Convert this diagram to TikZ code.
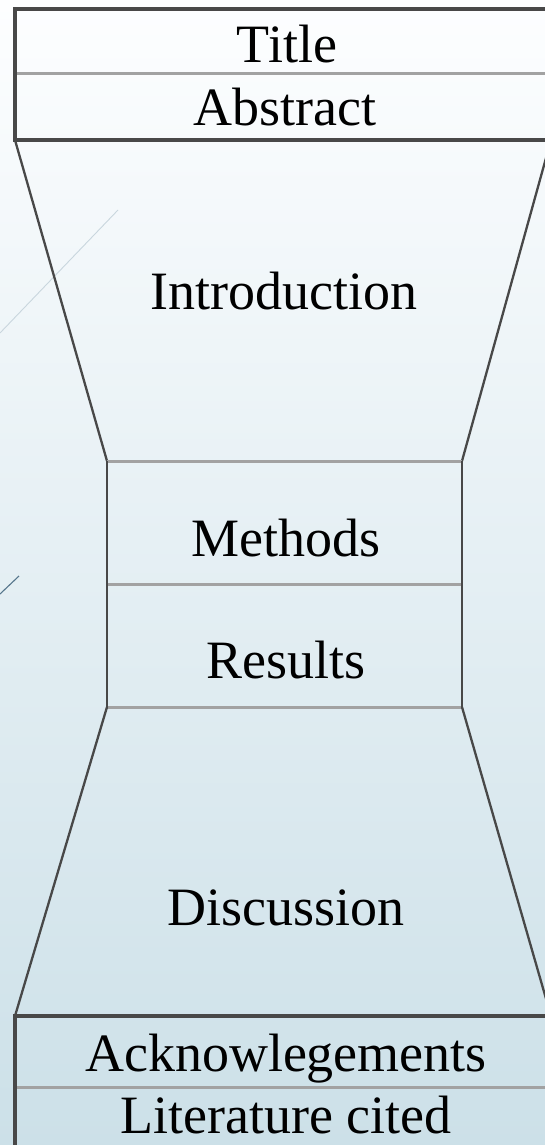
\documentclass[tikz,border=0pt]{standalone}
\usepackage{fontspec}
\setmainfont{Liberation Serif}
\definecolor{darkline}{HTML}{484848}
\definecolor{grayline}{HTML}{A2A2A2}
\definecolor{bgtop}{HTML}{FDFEFF}
\definecolor{bgmid}{HTML}{E8F1F4}
\definecolor{bgbot}{HTML}{CCE0E8}
\definecolor{decoA}{HTML}{C9D6DE}
\definecolor{decoB}{HTML}{56768C}
\begin{document}
\begin{tikzpicture}[x=1pt,y=-1pt,
  frame/.style={draw=darkline,line width=3.2pt},
  side/.style={draw=darkline,line width=2.6pt},
  slant/.style={draw=darkline,line width=2.3pt},
  sep/.style={draw=grayline,line width=3pt},
  lbl/.style={anchor=base,inner sep=0pt,text=black,font=\fontsize{54}{60}\selectfont}]
\shade[top color=bgtop, middle color=bgmid, bottom color=bgbot] (0,0) rectangle (545,1145);
\useasboundingbox (0,0) rectangle (545,1145);
\clip (0,0) rectangle (545,1145);
% decorative background strokes
\coordinate (da1) at (0,333); \coordinate (da2) at (118,210);
\coordinate (db1) at (0,594); \coordinate (db2) at (19,576);
\draw[decoA, line width=0.9pt] (da1) -- (da2);
\draw[decoB, line width=1.1pt] (db1) -- (db2);
% corner coordinates
\coordinate (tTopL) at (15,9);   \coordinate (tTopR) at (565,9);
\coordinate (tSepL) at (16,74);  \coordinate (tSepR) at (565,74);
\coordinate (tBotL) at (15,140); \coordinate (tBotR) at (565,140);
\coordinate (iR) at (551,140);
\coordinate (mTL) at (107,461);  \coordinate (mTR) at (462,461);
\coordinate (mSL) at (108,584);  \coordinate (mSR) at (461,584);
\coordinate (mBL) at (107,707);  \coordinate (mBR) at (462,707);
\coordinate (bTL) at (15,1016);  \coordinate (bTR) at (565,1016);
\coordinate (dR) at (551,1016);
\coordinate (bSL) at (16,1087);  \coordinate (bSR) at (565,1087);
\coordinate (bEnd) at (15,1150);
% top box
\draw[sep] (tSepL) -- (tSepR);
\draw[frame] (tTopR) -- (tTopL) -- (tBotL) -- (tBotR);
% introduction funnel
\draw[slant] (tBotL) -- (mTL);
\draw[slant] (iR) -- (mTR);
% middle box
\draw[sep] (mTL) -- (mTR);
\draw[sep] (mSL) -- (mSR);
\draw[sep] (mBL) -- (mBR);
\draw[side] (mTL) -- (mBL);
\draw[side] (mTR) -- (mBR);
% discussion funnel
\draw[slant] (mBL) -- (bTL);
\draw[slant] (mBR) -- (dR);
% bottom box
\draw[sep] (bSL) -- (bSR);
\draw[frame] (bTR) -- (bTL) -- (bEnd);
% labels
\node[lbl] (title) at (287,63) {Title};
\node[lbl] (abstract) at (285,125) {Abstract};
\node[lbl] (intro) at (284,309) {Introduction};
\node[lbl] (methods) at (286,556) {Methods};
\node[lbl] (results) at (286,678) {Results};
\node[lbl] (discussion) at (286,925) {Discussion};
\node[lbl] (ack) at (286,1071) {Acknowlegements};
\node[lbl] (lit) at (286,1133) {Literature cited};
\end{tikzpicture}
\end{document}
